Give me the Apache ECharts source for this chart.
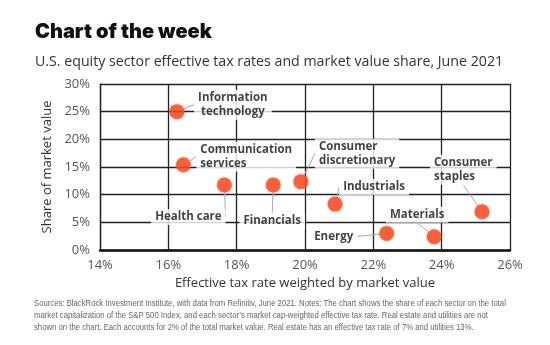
<!DOCTYPE html>
<html><head><meta charset="utf-8">
<script src="https://cdn.jsdelivr.net/npm/echarts@6/dist/echarts.min.js"></script>
<style>html,body{margin:0;padding:0;background:#fff}#c{width:550px;height:345px}</style>
</head><body><div id="c"></div>
<script>
const sectors = ['Information\ntechnology','Communication\nservices','Health care','Financials','Consumer\ndiscretionary','Industrials','Energy','Materials','Consumer\nstaples'];
const taxRate = [16.25, 16.44, 17.64, 19.07, 19.88, 20.88, 22.39, 23.78, 25.18];
const marketShare = [25.0, 15.4, 11.75, 11.75, 12.35, 8.3, 3.0, 2.4, 6.9];
const xTicks = [14,16,18,20,22,24,26];
const yTicks = [0,5,10,15,20,25,30];
// label placement relative to each marker: [dx, dy, align]
const labelPlacement = [[56,-7,'center'],[13,-8,'left'],[-36,32,'center'],[-1,36,'center'],[14,-28,'left'],[39,-17,'center'],[-53,3,'center'],[-17,-22,'center'],[-52,-42,'left']];

const chart = echarts.init(document.getElementById('c'));
const data = sectors.map((s,i)=>({
  name: s, value: [taxRate[i], marketShare[i]],
  label: {align: labelPlacement[i][2]}
}));
chart.setOption({
  backgroundColor:'#fff',
  animation:false,
  title:[
    {text:'Chart of the week', left:30, top:17, textStyle:{fontFamily:'Inter', fontWeight:900, fontSize:20, color:'#111'}},
    {text:'U.S. equity sector effective tax rates and market value share, June 2021', left:30, top:50, textStyle:{fontFamily:'Open Sans', fontWeight:'normal', fontSize:14.2, color:'#333'}}
  ],
  graphic:[{type:'text', x:34, y:297, scaleX:0.9, style:{
    text:'Sources: BlackRock Investment Institute, with data from Refinitiv, June 2021. Notes: The chart shows the share of each sector on the total\nmarket capitalization of the S&P 500 Index, and each sector\u2019s market cap-weighted effective tax rate. Real estate and utilities are not\nshown on the chart. Each accounts for 2% of the total market value. Real estate has an effective tax rate of 7% and utilities 13%.',
    font:'8.6px "Liberation Sans", sans-serif', fill:'#666', lineHeight:12.3}}],
  grid:{left:100, right:40, top:84, bottom:95},
  xAxis:{type:'value', min:14, max:26, interval:2,
    name:'Effective tax rate weighted by market value', nameLocation:'middle', nameGap:27,
    nameTextStyle:{fontFamily:'Open Sans', fontSize:13, color:'#333'},
    axisLine:{show:true, onZero:false, lineStyle:{color:'#111', width:2.5}},
    axisTick:{show:false},
    axisLabel:{formatter:v=>v+'%', fontFamily:'Open Sans', fontSize:13, color:'#555', margin:9},
    splitLine:{show:true, lineStyle:{color:'#222', width:1.3}}},
  yAxis:{type:'value', min:0, max:30, interval:5,
    name:'Share of market value', nameLocation:'middle', nameGap:43,
    nameTextStyle:{fontFamily:'Open Sans', fontSize:13, color:'#333'},
    axisLine:{show:true, lineStyle:{color:'#222', width:1.3}},
    axisTick:{show:false},
    axisLabel:{formatter:v=>v+'%', fontFamily:'Open Sans', fontSize:13, color:'#555', margin:10},
    splitLine:{show:true, lineStyle:{color:'#222', width:1.3}}},
  series:[{
    type:'scatter', data:data, symbolSize:15, z:5,
    itemStyle:{color:'#f24a22', shadowColor:'rgba(240,80,40,0.5)', shadowBlur:3},
    label:{show:true, position:'inside', formatter:p=>p.name, verticalAlign:'middle',
      fontFamily:'Open Sans', fontWeight:'bold', fontSize:11.5, lineHeight:14, color:'#111',
      backgroundColor:'#fff', padding:[1,4]},
    labelLine:{show:true, lineStyle:{color:'#aaa', width:1}},
    labelLayout:function(p){ const lp = labelPlacement[p.dataIndex]; return {dx:lp[0], dy:lp[1]}; }
  }]
});
</script></body></html>
